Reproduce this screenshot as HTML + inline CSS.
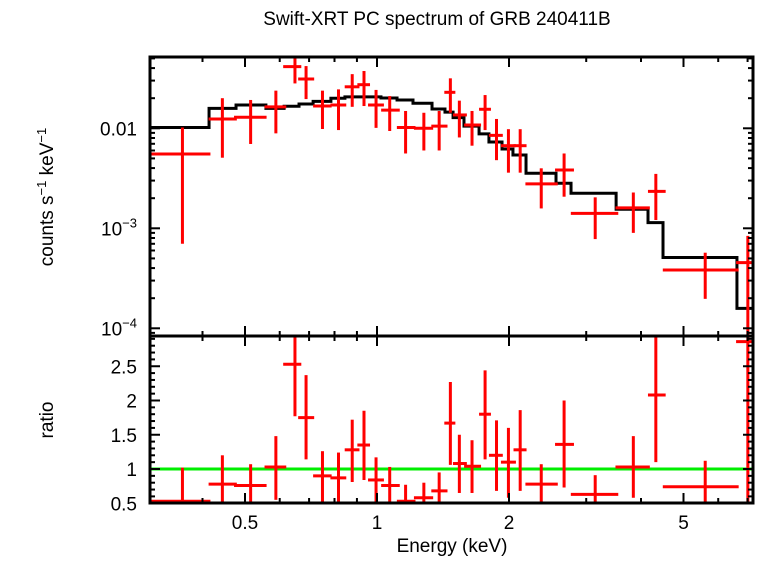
<!DOCTYPE html>
<html><head><meta charset="utf-8"><style>
body{margin:0;background:#fff;}
svg text{font-family:"Liberation Sans",sans-serif;fill:#000;}
</style></head><body>
<svg id="c" width="758" height="556" viewBox="0 0 758 556" xmlns="http://www.w3.org/2000/svg">
<text x="437" y="25" font-size="19" text-anchor="middle">Swift-XRT PC spectrum of GRB 240411B</text>
<text transform="translate(53,197) rotate(-90)" font-size="19" text-anchor="middle">counts s<tspan font-size="13" dy="-7">−1</tspan><tspan dy="7"> keV</tspan><tspan font-size="13" dy="-7">−1</tspan></text>
<text transform="translate(53,420) rotate(-90)" font-size="19" text-anchor="middle">ratio</text>
<text x="452" y="552" font-size="19" text-anchor="middle">Energy (keV)</text>
<g id="gt"></g>
</svg>
<script>
const eLo=[0.302,0.413,0.472,0.554,0.611,0.661,0.715,0.783,0.844,0.902,0.954,1.022,1.110,1.214,1.330,1.424,1.490,1.580,1.709,1.800,1.917,2.048,2.180,2.547,2.767,3.498,4.149,4.485,6.59];
const eHi=[0.417,0.479,0.560,0.621,0.672,0.719,0.788,0.851,0.912,0.964,1.037,1.127,1.224,1.343,1.448,1.509,1.603,1.727,1.819,1.936,2.074,2.193,2.584,2.813,3.550,4.190,4.553,6.68,7.42];
const eMid=[0.360,0.444,0.515,0.588,0.650,0.689,0.751,0.817,0.878,0.934,0.995,1.069,1.162,1.279,1.386,1.470,1.541,1.647,1.764,1.873,1.994,2.121,2.369,2.671,3.145,3.842,4.324,5.604,7.01];
const flux=[0.00553,0.0124,0.0129,0.0164,0.0414,0.0311,0.0167,0.0171,0.0260,0.0273,0.0171,0.0152,0.0102,0.0100,0.0105,0.0229,0.0136,0.0108,0.0155,0.0085,0.0067,0.0067,0.00278,0.00383,0.00141,0.00160,0.00234,0.000383,0.000454];
const fluxLo=[0.0007,0.00508,0.00697,0.0089,0.0281,0.0196,0.00984,0.0096,0.0164,0.0167,0.0101,0.0094,0.0056,0.0060,0.0060,0.0143,0.0081,0.0067,0.0096,0.0048,0.0036,0.0036,0.00158,0.00207,0.00078,0.00090,0.00121,0.000197,0.00005];
const fluxHi=[0.0102,0.0200,0.0192,0.0238,0.060,0.0419,0.0238,0.0245,0.0348,0.0374,0.0242,0.0210,0.0149,0.0143,0.0149,0.0316,0.0189,0.0149,0.0215,0.0124,0.0098,0.0098,0.00398,0.0056,0.00204,0.00228,0.0035,0.00057,0.00084];
const ratio=[0.53,0.78,0.76,1.03,2.53,1.75,0.90,0.87,1.28,1.35,0.84,0.76,0.53,0.58,0.68,1.67,1.08,1.04,1.80,1.20,1.10,1.28,0.78,1.36,0.63,1.03,2.08,0.74,2.86];
const ratioLo=[0.4,0.46,0.46,0.55,1.77,1.14,0.52,0.50,0.81,0.84,0.50,0.47,0.4,0.4,0.4,1.06,0.65,0.65,1.14,0.68,0.58,0.68,0.4,0.73,0.4,0.58,1.10,0.4,0.50];
const ratioHi=[1.02,1.20,1.07,1.48,3.2,2.37,1.26,1.24,1.72,1.85,1.17,1.03,0.77,0.80,0.95,2.27,1.50,1.42,2.44,1.71,1.60,1.86,1.07,2.00,0.91,1.48,3.2,1.12,3.2];
const mEdges=[0.303,0.414,0.477,0.558,0.614,0.664,0.715,0.785,0.845,1.021,1.111,1.208,1.335,1.429,1.491,1.579,1.709,1.800,1.928,2.042,2.187,2.56,2.77,3.51,4.15,4.49,6.62,7.2];
const mVal=[0.0102,0.0158,0.0171,0.0158,0.0166,0.0175,0.0186,0.0200,0.0206,0.0201,0.0192,0.0178,0.0156,0.0145,0.0128,0.0105,0.0088,0.0073,0.0062,0.0054,0.00355,0.00282,0.00224,0.00155,0.00114,0.00051,0.000158];
const xTickLabels=[0.5,1,2,5];
const xMinor=[0.4,0.6,0.7,0.8,0.9,3,4,6,7];
const ratioTicks=[0.5,1,1.5,2,2.5];

const NS="http://www.w3.org/2000/svg";
const L=150,R=753,T=57,M=336,B=503;
const X=e=>377+438.5*Math.log10(e);
const YT=v=>128.3-100*(Math.log10(v)+2);
const YR=r=>469-(r-1)*68.5;
const root=document.getElementById('gt');
function el(tag,attrs,parent){const e=document.createElementNS(NS,tag);for(const k in attrs)e.setAttribute(k,attrs[k]);(parent||root).appendChild(e);return e;}
function clip(id,y1,y2){const d=el('clipPath',{id:id});el('rect',{x:L,y:y1,width:R-L,height:y2-y1},d);}
clip('ct',T,M);clip('cb',M,B);
const gTop=el('g',{'clip-path':'url(#ct)'});


const gBot=el('g',{'clip-path':'url(#cb)'});



let d='';
for(let i=0;i<mVal.length;i++){const x1=X(mEdges[i]),x2=X(mEdges[i+1]),y=YT(mVal[i]);d+=(i?'L':'M')+x1+','+y+'L'+x2+','+y;}
const model=el('path',{d:d,fill:'none',stroke:'#000','stroke-width':3},gTop);



const g1=el('line',{x1:L,x2:R,y1:YR(1),y2:YR(1),stroke:'#00ee00','stroke-width':3},gBot);



for(let i=0;i<flux.length;i++){
  const gp=el('g',{stroke:'#ff0000','stroke-width':3},gTop);
  
  
  el('line',{x1:X(eLo[i]),x2:X(eHi[i]),y1:YT(flux[i]),y2:YT(flux[i])},gp);
  el('line',{x1:X(eMid[i]),x2:X(eMid[i]),y1:YT(fluxLo[i]),y2:YT(fluxHi[i])},gp);
  const gr=el('g',{stroke:'#ff0000','stroke-width':3},gBot);
  
  
  el('line',{x1:X(eLo[i]),x2:X(eHi[i]),y1:YR(ratio[i]),y2:YR(ratio[i])},gr);
  el('line',{x1:X(eMid[i]),x2:X(eMid[i]),y1:YR(ratioLo[i]),y2:YR(ratioHi[i])},gr);
}

const ax=el('g',{stroke:'#000','stroke-width':2});


function xt(e,len){const x=X(e);for(const [y,s] of [[T,1],[M,-1],[M,1],[B,-1]])el('line',{x1:x,x2:x,y1:y,y2:y+s*len},ax);}
xTickLabels.forEach(e=>xt(e,10));xMinor.forEach(e=>xt(e,5));
for(let dec=-5;dec<=-1;dec++)for(let k=1;k<=9;k++){const v=k*Math.pow(10,dec);const y=YT(v);if(y<T||y>M)continue;const len=k==1?10:5;el('line',{x1:L,x2:L+len,y1:y,y2:y},ax);el('line',{x1:R,x2:R-len,y1:y,y2:y},ax);}
for(let r=0.5;r<=2.91;r+=0.1){const y=YR(r);const maj=Math.abs(r*2-Math.round(r*2))<0.01;const len=maj?10:5;el('line',{x1:L,x2:L+len,y1:y,y2:y},ax);el('line',{x1:R,x2:R-len,y1:y,y2:y},ax);}
const fr=el('g',{fill:'none',stroke:'#000','stroke-width':3});


el('rect',{x:L,y:T,width:R-L,height:M-T},fr);el('rect',{x:L,y:M,width:R-L,height:B-M},fr);

xTickLabels.forEach(e=>{const t=el('text',{x:X(e),y:529,'font-size':19,'text-anchor':'middle'});t.textContent=String(e);});
ratioTicks.forEach(r=>{const t=el('text',{x:137,y:YR(r)+7,'font-size':19,'text-anchor':'end'});t.textContent=String(r);});
const t1=el('text',{x:137,y:YT(0.01)+7,'font-size':19,'text-anchor':'end'});t1.textContent='0.01';


[[-3,'−3'],[-4,'−4']].forEach(([p,s])=>{const t=el('text',{x:137,y:YT(Math.pow(10,p))+7,'font-size':19,'text-anchor':'end'});const a=el('tspan',{},t);a.textContent='10';const b=el('tspan',{'font-size':13,dy:-8},t);b.textContent=s;});
</script>
</body></html>
